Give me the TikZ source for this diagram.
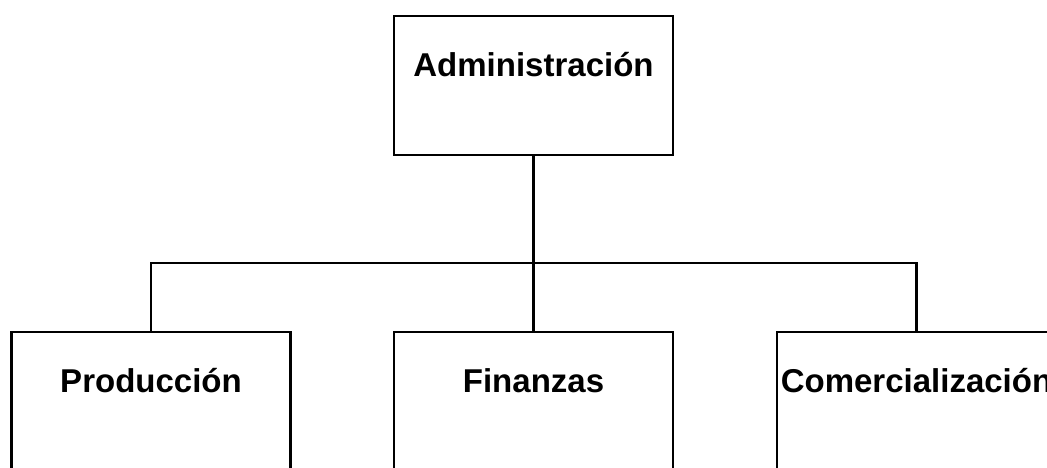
\documentclass[tikz,border=0pt]{standalone}
\usepackage{fontspec}
\setmainfont{Liberation Sans}
\begin{document}
\begin{tikzpicture}[x=1pt,y=1pt,
  orgbox/.style={draw=black,line width=2.8pt,fill=white,minimum width=279pt,minimum height=139pt,inner sep=0pt},
  orglabel/.style={font=\bfseries\fontsize{33}{38}\selectfont,anchor=base,inner sep=0pt},
  conn/.style={draw=black,line width=2.8pt}]
\useasboundingbox (0,0) rectangle (1047,468);
\clip (0,0) rectangle (1047,468);
\fill[white] (0,0) rectangle (1047,468);
\node[orgbox] (adm) at (533.5,382.5) {};
\node[orgbox] (prod) at (151,66.5) {};
\node[orgbox] (fin) at (533.5,66.5) {};
\node[orgbox] (com) at (916.5,66.5) {};
\coordinate (bus) at (533.5,205);
\draw[conn] (adm.south) -- (bus);
\draw[conn] (prod.north) |- (bus) -| (com.north);
\draw[conn] (bus) -- (fin.north);
\node[orglabel] (admt) at (533.5,391) {Administración};
\node[orglabel] (prodt) at (151,75) {Producción};
\node[orglabel] (fint) at (533.5,75) {Finanzas};
\node[orglabel] (comt) at (916.5,75) {Comercialización};
\end{tikzpicture}
\end{document}
